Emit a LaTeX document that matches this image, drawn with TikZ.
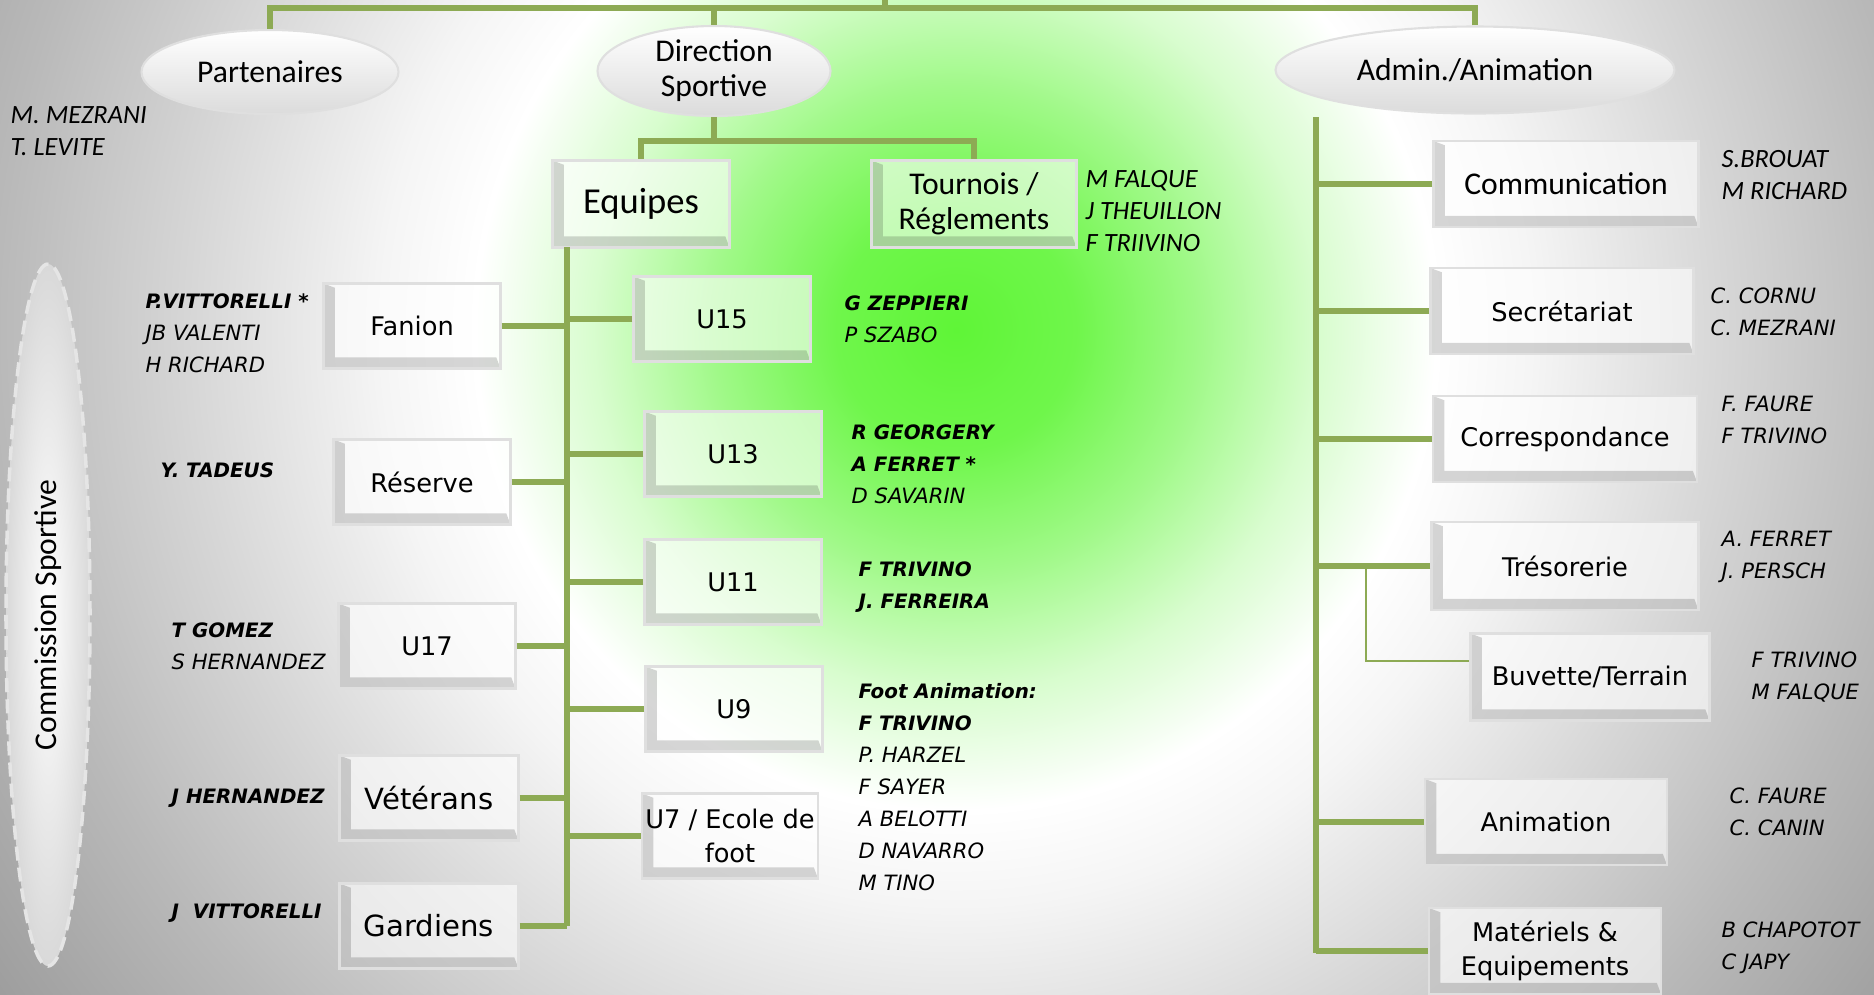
\documentclass[tikz,border=0pt]{standalone}
\usepackage{fontspec}
\setmainfont{Carlito}
\newfontfamily\wfont{DejaVu Sans}
\usetikzlibrary{shapes.geometric}
\definecolor{glow}{RGB}{95,245,55}
\definecolor{linkgreen}{RGB}{141,170,84}
\pgfdeclareradialshading{bgglow}{\pgfpoint{0bp}{0bp}}{color(0bp)=(glow); color(2.5bp)=(glow!90!white); color(5bp)=(glow!60!white); color(7.5bp)=(glow!25!white); color(10bp)=(white); color(12bp)=(gray!8); color(16bp)=(gray!32); color(20bp)=(gray!55); color(25bp)=(gray!80); color(50bp)=(gray!80)}
\newcommand{\boldname}[1]{{\fontsize{5.65}{9}\selectfont\bfseries #1}}
\tikzset{
  link/.style={linkgreen, line width=1.7pt},
  thinlink/.style={linkgreen, line width=.5pt},
  bevelbox/.style={rectangle, inner sep=0pt, align=center, draw=white!75!gray, line width=.6pt, fill=white, fill opacity=.6, text opacity=1,
    path picture={\fill[black, opacity=.16] (path picture bounding box.north west) -- ++(3.2pt,-1.2pt) -- ([shift={(3.2pt,3.2pt)}]path picture bounding box.south west) -- ([shift={(-1.2pt,3.2pt)}]path picture bounding box.south east) -- (path picture bounding box.south east) -- (path picture bounding box.south west) -- cycle;}},
  oval/.style={ellipse, inner sep=0pt, align=center, top color=white, bottom color=gray!28, draw=gray!25, line width=.6pt, font=\fontsize{9}{9.9}\selectfont},
  calbox/.style={font=\fontsize{9}{9.9}\selectfont},
  verdbox/.style={font=\wfont\fontsize{7.3}{9.5}\selectfont},
  calname/.style={anchor=base west, inner sep=0pt, font=\fontsize{7.5}{9}\selectfont\itshape},
  verdname/.style={anchor=base west, inner sep=0pt, font=\wfont\fontsize{6}{9}\selectfont\itshape}
}
\begin{document}
\begin{tikzpicture}[x=0.1mm, y=-0.1mm]
    \useasboundingbox (0,0) rectangle (1874,994);
    \begin{scope}
        \clip (0,0) rectangle (1874,994);
        \shade[shading=bgglow] (956,330) circle (12cm);
    \end{scope}

    \node[ellipse, rotate=90, minimum width=70.2mm, minimum height=8.4mm, inner sep=0pt, inner color=white, outer color=gray!30, draw=gray!20, line width=1pt, dash pattern=on 4pt off 2pt, font=\fontsize{9}{10}\selectfont] (commission) at (48,615) {Commission Sportive};

    \node[oval, minimum width=25.7mm, minimum height=8.4mm] (part) at (270,72) {Partenaires};
    \node[oval, minimum width=23.3mm, minimum height=9mm] (dir) at (714,71) {Direction\\Sportive};
    \node[oval, minimum width=39.9mm, minimum height=8.7mm] (admin) at (1475,70) {Admin./Animation};

    \node[bevelbox, font=\fontsize{10.4}{12}\selectfont, minimum width=17.7mm, minimum height=8.7mm] (equipes) at (641,204) {Equipes};
    \node[bevelbox, calbox, minimum width=20.5mm, minimum height=8.7mm] (tournois) at (974,204) {Tournois /\\Réglements};

    \foreach \n/\t/\x/\y in {u15/U15/722/319, u13/U13/733/454, u11/U11/733/582, u9/U9/734/709}
        \node[bevelbox, verdbox, minimum width=17.7mm, minimum height=8.5mm] (\n) at (\x,\y) {\t};
    \node[bevelbox, verdbox, minimum width=17.6mm, minimum height=8.5mm] (u7) at (730,836) {U7 / Ecole de\\foot};

    \foreach \n/\t/\x/\y in {fanion/Fanion/412/326, reserve/Réserve/422/482, u17/U17/427/646}
        \node[bevelbox, verdbox, minimum width=17.7mm, minimum height=8.5mm] (\n) at (\x,\y) {\t};
    \foreach \n/\t/\y in {vet/Vétérans/798, gard/Gardiens/926}
        \node[bevelbox, font=\wfont\fontsize{8.3}{10}\selectfont, minimum width=17.9mm, minimum height=8.5mm] (\n) at (429,\y) {\t};

    \node[bevelbox, calbox, minimum width=26.5mm, minimum height=8.6mm] (comm) at (1566,184) {Communication};
    \node[bevelbox, verdbox, minimum width=26.3mm, minimum height=8.6mm] (secr) at (1562,311) {Secrétariat};
    \node[bevelbox, verdbox, minimum width=26.4mm, minimum height=8.6mm] (corr) at (1565,439) {Correspondance};
    \node[bevelbox, verdbox, minimum width=26.7mm, minimum height=8.8mm] (treso) at (1565,566) {Trésorerie};
    \node[bevelbox, verdbox, minimum width=23.9mm, minimum height=8.7mm] (buvette) at (1590,677) {Buvette/Terrain};
    \node[bevelbox, verdbox, minimum width=24.2mm, minimum height=8.6mm] (anim) at (1546,822) {Animation};
    \node[bevelbox, verdbox, minimum width=23.2mm, minimum height=8.6mm] (mat) at (1545,951) {Matériels \&\\Equipements};

    \coordinate (root) at (885,0);
    \coordinate (bar) at (885,8);
    \draw[link] (root) -- (bar);
    \draw[link] (part.north) |- (bar);
    \draw[link] (dir.north) |- (bar);
    \draw[link] (admin.north) |- (bar);

    \coordinate (dsplit) at (714,141);
    \draw[link] (dir.south) -- (dsplit);
    \draw[link] (dsplit) -| (equipes.north);
    \draw[link] (dsplit) -| (tournois.north);

    \coordinate (etop) at (567,247);
    \coordinate (ebot) at (567,926);
    \draw[link] (etop) -- (ebot);
    \foreach \n in {fanion,reserve,u17,vet,gard}
        \draw[link] (\n.east) -- (\n.east -| etop);
    \foreach \n in {u15,u13,u11,u9,u7}
        \draw[link] (\n.west) -- (\n.west -| etop);

    \coordinate (atop) at (1316,117);
    \coordinate (abot) at (1316,953);
    \draw[link] (atop) -- (abot);
    \foreach \n in {comm,secr,corr,treso,anim,mat}
        \draw[link] (\n.west) -- (\n.west -| atop);
    \coordinate (bsplit) at (1366,566);
    \draw[thinlink] (bsplit) |- ([yshift=4.5pt]buvette.west);

    \foreach \t [count=\i from 0] in {M. MEZRANI, T. LEVITE}
        \node[calname] (mez\i) at (10,{123+32*\i}) {\t};
    \foreach \t [count=\i from 0] in {M FALQUE, J THEUILLON, F TRIIVINO}
        \node[calname] (tou\i) at (1085,{187+32*\i}) {\t};
    \foreach \t [count=\i from 0] in {S.BROUAT, M RICHARD}
        \node[calname] (com\i) at (1721,{167+32*\i}) {\t};

    \foreach \t [count=\i from 0] in {\boldname{P.VITTORELLI *}, JB VALENTI, H RICHARD}
        \node[verdname] (fan\i) at (145,{308+32*\i}) {\t};
    \node[verdname] (res0) at (160,477) {\boldname{Y. TADEUS}};
    \foreach \t [count=\i from 0] in {\boldname{T GOMEZ}, S HERNANDEZ}
        \node[verdname] (dixsept\i) at (171,{637+32*\i}) {\t};
    \node[verdname] (vet0) at (171,803) {\boldname{J HERNANDEZ}};
    \node[verdname] (gar0) at (171,918) {\boldname{J~\ VITTORELLI}};

    \foreach \t [count=\i from 0] in {\boldname{G ZEPPIERI}, P SZABO}
        \node[verdname] (quinze\i) at (844,{310+32*\i}) {\t};
    \foreach \t [count=\i from 0] in {\boldname{R GEORGERY}, \boldname{A FERRET *}, D SAVARIN}
        \node[verdname] (treize\i) at (851,{439+32*\i}) {\t};
    \foreach \t [count=\i from 0] in {\boldname{F TRIVINO}, \boldname{J. FERREIRA}}
        \node[verdname] (onze\i) at (858,{576+32*\i}) {\t};
    \foreach \t [count=\i from 0] in {\boldname{Foot Animation:}, \boldname{F TRIVINO}, P. HARZEL, F SAYER, A BELOTTI, D NAVARRO, M TINO}
        \node[verdname] (neuf\i) at (858,{698+32*\i}) {\t};

    \foreach \t [count=\i from 0] in {C. CORNU, C. MEZRANI}
        \node[verdname] (sec\i) at (1710,{303+32*\i}) {\t};
    \foreach \t [count=\i from 0] in {F. FAURE, F TRIVINO}
        \node[verdname] (cor\i) at (1721,{411+32*\i}) {\t};
    \foreach \t [count=\i from 0] in {A. FERRET, J. PERSCH}
        \node[verdname] (tre\i) at (1721,{546+32*\i}) {\t};
    \foreach \t [count=\i from 0] in {F TRIVINO, M FALQUE}
        \node[verdname] (buv\i) at (1751,{667+32*\i}) {\t};
    \foreach \t [count=\i from 0] in {C. FAURE, C. CANIN}
        \node[verdname] (ani\i) at (1729,{803+32*\i}) {\t};
    \foreach \t [count=\i from 0] in {B CHAPOTOT, C JAPY}
        \node[verdname] (mat\i) at (1721,{937+32*\i}) {\t};
\end{tikzpicture}
\end{document}
